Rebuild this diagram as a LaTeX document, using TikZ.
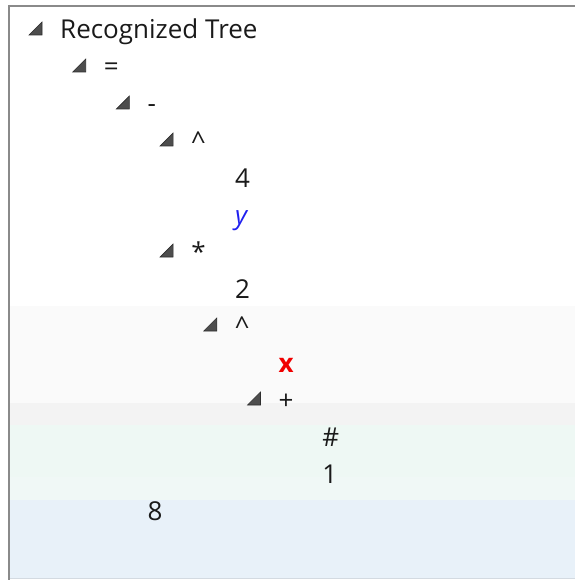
\documentclass[tikz,border=0pt]{standalone}
\usepackage{fontspec}
\setmainfont{Open Sans}
\usepackage{tikz}
\usetikzlibrary{calc}

\definecolor{framegray}{HTML}{8A8A8A}
\definecolor{framelow}{HTML}{D3DAE1}
\definecolor{bandgray}{HTML}{FAFAFA}
\definecolor{bandgrayb}{HTML}{F3F3F3}
\definecolor{bandmint}{HTML}{EEF8F4}
\definecolor{bandmintb}{HTML}{F0F8F6}
\definecolor{bandblue}{HTML}{E8F1F9}
\definecolor{txt}{HTML}{1A1A1A}
\definecolor{trifill}{HTML}{4D4D4D}
\definecolor{triedge}{HTML}{2E2E2E}
\definecolor{varblue}{HTML}{1F1FEF}
\definecolor{varred}{HTML}{F00000}

\tikzset{
	lbl/.style={anchor=base west, inner sep=0pt, font=\fontsize{26}{31}\selectfont, text=txt},
	expander/.style={fill=trifill, draw=triedge, line width=0.6pt, line join=miter},
}

\begin{document}
\begin{tikzpicture}[x=1pt, y=-1pt]
\useasboundingbox (0,0) rectangle (575,580);
% row bands
\fill[bandgray]  (10,306) rectangle (575,403);
\fill[bandgrayb] (10,403) rectangle (575,425);
\fill[bandmint]  (10,425) rectangle (575,477);
\fill[bandmintb] (10,477) rectangle (575,500);
\fill[bandblue]  (10,500) rectangle (575,578);
% frame
\draw[framelow, line width=1.5pt] (10,578.5) -- (575,578.5);
\draw[framegray, line width=2pt] (9,5) -- (9,580);
\draw[framegray, line width=2pt] (8,6) -- (575,6);

% tree rows
\node[lbl] (root)  at ({60+43.7*0}, {39+37*0})  {Recognized Tree};
\node[lbl] (eq)    at ({60+43.7*1}, {39+37*1})  {=};
\node[lbl] (minus) at ({60+43.7*2}, {39+37*2})  {-};
\node[lbl] (powa)  at ({60+43.7*3}, {39+37*3})  {\textasciicircum};
\node[lbl] (four)  at ({60+43.7*4}, {39+37*4})  {4};
\node[lbl, text=varblue, font=\fontsize{26}{31}\selectfont\itshape] (yvar) at ({60+43.7*4}, {39+37*5}) {y};
\node[lbl] (times) at ({60+43.7*3}, {39+37*6})  {*};
\node[lbl] (two)   at ({60+43.7*4}, {39+37*7})  {2};
\node[lbl] (powb)  at ({60+43.7*4}, {39+37*8})  {\textasciicircum};
\node[lbl, text=varred, font=\fontsize{26}{31}\selectfont\bfseries] (xvar) at ({60+43.7*5}, {39+37*9}) {x};
\node[lbl] (plus)  at ({60+43.7*5}, {39+37*10}) {+};
\node[lbl] (hash)  at ({60+43.7*6}, {39+37*11}) {\#};
\node[lbl] (one)   at ({60+43.7*6}, {39+37*12}) {1};
\node[lbl] (eight) at ({60+43.7*2}, {39+37*13}) {8};

% expand triangles
\foreach \n in {root,eq,minus,powa,times,powb,plus}
	\filldraw[expander] ($(\n.base west)+(-31,-4)$) -- ++(13,0) -- ++(0,-13) -- cycle;
\end{tikzpicture}
\end{document}
